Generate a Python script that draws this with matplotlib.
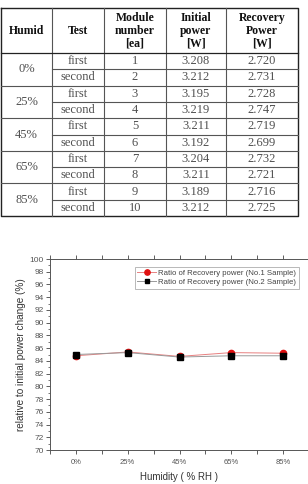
import matplotlib
matplotlib.use("Agg")
import matplotlib.pyplot as plt
from matplotlib.ticker import MultipleLocator
import numpy as np

# ---- data ----
humid = ["0%", "25%", "45%", "65%", "85%"]
tests = ["first", "second"]
module_no = [1, 2, 3, 4, 5, 6, 7, 8, 9, 10]
initial_power = [3.208, 3.212, 3.195, 3.219, 3.211, 3.192, 3.204, 3.211, 3.189, 3.212]
recovery_power = [2.720, 2.731, 2.728, 2.747, 2.719, 2.699, 2.732, 2.721, 2.716, 2.725]
headers = ["Humid", "Test", "Module\nnumber\n[ea]", "Initial\npower\n[W]", "Recovery\nPower\n[W]"]

ratio_no1 = [84.8, 85.4, 84.7, 85.3, 85.2]
ratio_no2 = [85.0, 85.3, 84.6, 84.8, 84.8]
xlabels = ["0%", "25%", "45%", "65%", "85%"]
yticks = list(range(70, 101, 2))

W, H = 308, 484
fig = plt.figure(figsize=(W / 100, H / 100), dpi=100)

# ---- table ----
axt = fig.add_axes([0, 0, 1, 1])
axt.set_xlim(0, W)
axt.set_ylim(H, 0)
axt.axis("off")

cols = [1, 52, 104, 166, 226, 298]
top, hdr_bot, bot = 7.5, 53, 216
nrows = len(module_no)
rh = (bot - hdr_bot) / nrows
rows = [hdr_bot + i * rh for i in range(nrows + 1)]
lc = "#555555"
serif = ["Liberation Serif", "DejaVu Serif"]

axt.plot([cols[0], cols[-1], cols[-1], cols[0], cols[0]], [top, top, bot, bot, top], color="#222222", lw=1.0)
for c in cols[1:-1]:
    axt.plot([c, c], [top, bot], color=lc, lw=0.8)
axt.plot([cols[0], cols[-1]], [hdr_bot, hdr_bot], color="#222222", lw=0.9)
for i in range(1, nrows):
    x0 = cols[0] if i % 2 == 0 else cols[1]
    axt.plot([x0, cols[-1]], [rows[i], rows[i]], color=lc, lw=0.8)

for j, h in enumerate(headers):
    axt.text((cols[j] + cols[j + 1]) / 2, (top + hdr_bot) / 2 + 0.5, h, ha="center", va="center",
             fontsize=8.5, fontweight="bold", family=serif, linespacing=1.12, color="#111111")

tc = "#505050"
fs = 9
for i in range(nrows):
    yc = (rows[i] + rows[i + 1]) / 2
    axt.text((cols[1] + cols[2]) / 2, yc, tests[i % 2], ha="center", va="center", fontsize=fs, family=serif, color=tc)
    axt.text((cols[2] + cols[3]) / 2, yc, str(module_no[i]), ha="center", va="center", fontsize=fs, family=serif, color=tc)
    axt.text((cols[3] + cols[4]) / 2, yc, f"{initial_power[i]:.3f}", ha="center", va="center", fontsize=fs, family=serif, color=tc)
    axt.text((cols[4] + cols[5]) / 2, yc, f"{recovery_power[i]:.3f}", ha="center", va="center", fontsize=fs, family=serif, color=tc)
for g, hv in enumerate(humid):
    yc = rows[2 * g + 1]
    axt.text((cols[0] + cols[1]) / 2, yc, hv, ha="center", va="center", fontsize=fs, family=serif, color=tc)

# ---- chart ----
sans = ["Liberation Sans", "DejaVu Sans"]
L, R, T, B = 50, 309, 259, 450
ax = fig.add_axes([L / W, 1 - B / H, (R - L) / W, (B - T) / H])
x = np.arange(1, len(xlabels) + 1)
ax.plot(x, ratio_no1, color="#e88080", lw=0.7, marker="o", ms=4.5, mfc="#e01010", mec="#e01010",
        label="Ratio of Recovery power (No.1 Sample)", zorder=3)
ax.plot(x, ratio_no2, color="#999999", lw=0.7, marker="s", ms=4.2, mfc="black", mec="black",
        label="Ratio of Recovery power (No.2 Sample)", zorder=4)
ax.set_xlim(0.5, 5.5)
ax.set_ylim(70, 100)
ax.set_xticks(x)
ax.set_xticklabels(xlabels)
ax.xaxis.set_minor_locator(MultipleLocator(0.5))
ax.set_yticks(yticks)
ax.yaxis.set_minor_locator(MultipleLocator(1))
ax.tick_params(axis="both", which="both", colors="#444444", labelcolor="#555555")
ax.tick_params(axis="x", which="major", length=3, width=0.6, top=True, direction="out", pad=3.5, labelsize=5.5)
ax.tick_params(axis="x", which="minor", length=3, width=0.6, top=True, direction="out")
ax.tick_params(axis="y", which="major", length=3, width=0.6, right=True, direction="out", pad=1.5, labelsize=6)
ax.tick_params(axis="y", which="minor", length=1.8, width=0.5, right=True, direction="out")
for lab in ax.get_xticklabels() + ax.get_yticklabels():
    lab.set_family(sans)
for s in ax.spines.values():
    s.set_color("#555555")
    s.set_linewidth(0.7)
ax.set_ylabel("relative to initial power change (%)", fontsize=7.2, color="#333333", labelpad=2.5, family=sans)
ax.set_xlabel("Humidity ( % RH )", fontsize=7, color="#333333", labelpad=4, family=sans)
leg = ax.legend(loc="upper right", bbox_to_anchor=((299 - L) / (R - L), 1 - (267 - T) / (B - T)),
                prop={"family": sans, "size": 5.6}, frameon=True, fancybox=False, borderpad=0.35,
                handlelength=2.4, handletextpad=0.3, labelspacing=0.15, borderaxespad=0, markerscale=0.85)
leg.get_frame().set_edgecolor("#999999")
leg.get_frame().set_linewidth(0.6)
for t in leg.get_texts():
    t.set_color("#444444")

fig.savefig("out.png", dpi=100)
